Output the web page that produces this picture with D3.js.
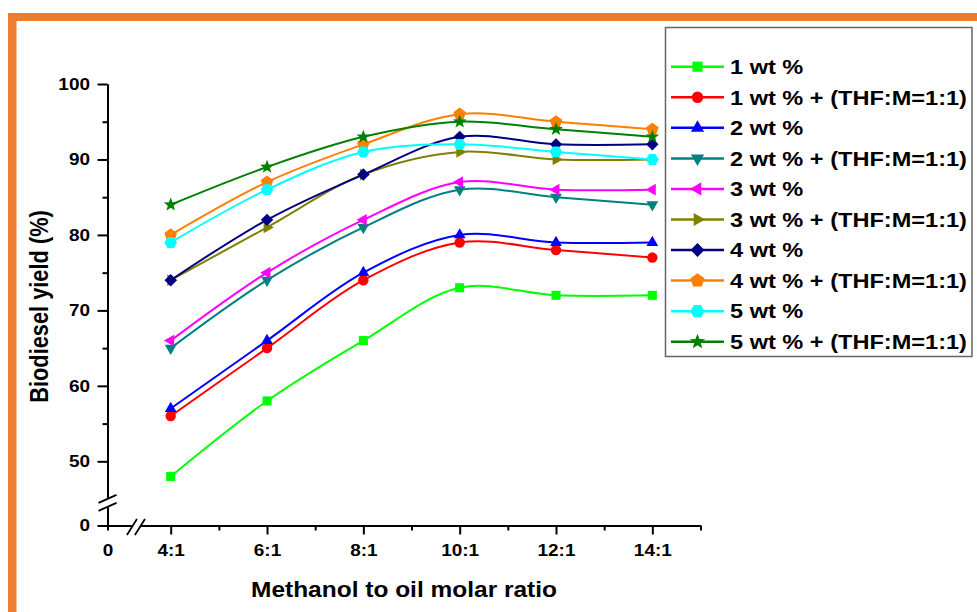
<!DOCTYPE html>
<html>
<head>
<meta charset="utf-8">
<script src="https://cdn.jsdelivr.net/npm/d3@7"></script>
<style>
  body { margin: 0; background: #fff; }
  svg { display: block; }
  text { font-family: "Liberation Sans", Arial, sans-serif; font-weight: bold; fill: #000; }
</style>
</head>
<body>
<div id="vis"></div>
<script>
// molar ratios (x:1)
const ratios = [4, 6, 8, 10, 12, 14];

const seriesNames = [
    "1 wt %", "1 wt % + (THF:M=1:1)",
    "2 wt %", "2 wt % + (THF:M=1:1)",
    "3 wt %", "3 wt % + (THF:M=1:1)",
    "4 wt %", "4 wt % + (THF:M=1:1)",
    "5 wt %", "5 wt % + (THF:M=1:1)"
];

// biodiesel yield (%) at each ratio
const yield1 = [48, 58, 66, 73, 72, 72];
const yield1T = [56, 65, 74, 79, 78, 77];
const yield2 = [57, 66, 75, 80, 79, 79];
const yield2T = [65, 74, 81, 86, 85, 84];
const yield3 = [66, 75, 82, 87, 86, 86];
const yield3T = [74, 81, 88, 91, 90, 90];
const yield4 = [74, 82, 88, 93, 92, 92];
const yield4T = [80, 87, 92, 96, 95, 94];
const yield5 = [79, 86, 91, 92, 91, 90];
const yield5T = [84, 89, 93, 95, 94, 93];

const xTicks = [0, 4, 6, 8, 10, 12, 14];
const xMinor = [5, 7, 9, 11, 13, 15];
const yTicks = [0, 50, 60, 70, 80, 90, 100];
const yMinor = [55, 65, 75, 85, 95];

const colors = ["#00ff00", "#ff0000", "#0000ff", "#008080", "#ff00ff",
                "#808000", "#000080", "#ff8000", "#00ffff", "#008000"];

const allYields = [yield1, yield1T, yield2, yield2T, yield3, yield3T, yield4, yield4T, yield5, yield5T];

const SX = 1.15; // the original picture is stretched sideways

// regular polygon marker, size = circumradius
function polygon(n, start) {
    return {
        draw(ctx, r) {
            for (let i = 0; i < n; i++) {
                const a = start + i * 2 * Math.PI / n;
                const px = r * Math.cos(a), py = r * Math.sin(a);
                if (i === 0) ctx.moveTo(px, py); else ctx.lineTo(px, py);
            }
            ctx.closePath();
        }
    };
}
const circle = { draw(ctx, r) { ctx.moveTo(r, 0); ctx.arc(0, 0, r, 0, 2 * Math.PI); } };
const star = {
    draw(ctx, r) {
        for (let i = 0; i < 10; i++) {
            const rr = i % 2 ? r * 0.42 : r;
            const a = -Math.PI / 2 + i * Math.PI / 5;
            const px = rr * Math.cos(a), py = rr * Math.sin(a);
            if (i === 0) ctx.moveTo(px, py); else ctx.lineTo(px, py);
        }
        ctx.closePath();
    }
};
const deg = Math.PI / 180;
const markers = [
    [polygon(4, 45 * deg), 6.4],
    [circle, 5.2],
    [polygon(3, -90 * deg), 6.8],
    [polygon(3, 90 * deg), 6.8],
    [polygon(3, 180 * deg), 6.8],
    [polygon(3, 0), 6.8],
    [polygon(4, -90 * deg), 6.2],
    [polygon(5, -90 * deg), 6.6],
    [polygon(6, 0), 6.3],
    [star, 7.2]
];

const svg = d3.select("#vis").append("svg")
    .attr("width", 977)
    .attr("height", 612);

// orange frame
svg.append("rect").attr("x", 8).attr("y", 13).attr("width", 969).attr("height", 8).attr("fill", "#ed7d31");
svg.append("rect").attr("x", 8).attr("y", 13).attr("width", 8.5).attr("height", 599).attr("fill", "#ed7d31");

const x = d3.scaleLinear().domain([0, 4, 15]).range([107.5, 170.7, 700.5]);
const y = d3.scaleLinear().domain([0, 44, 100]).range([525.5, 506.6, 84]);

// series
const line = d3.line()
    .x((d, i) => x(ratios[i]))
    .y(d => y(d))
    .curve(d3.curveCatmullRom);

allYields.forEach((vals, s) => {
    const g = svg.append("g");
    g.append("path")
        .attr("d", line(vals))
        .attr("fill", "none")
        .attr("stroke", colors[s])
        .attr("stroke-width", 2);
    g.selectAll("path.m")
        .data(vals)
        .join("path")
        .attr("class", "m")
        .attr("transform", (d, i) => `translate(${x(ratios[i])},${y(d)})`)
        .attr("d", d3.symbol().type(markers[s][0]).size(markers[s][1]))
        .attr("fill", colors[s]);
});

// axes
const xAxis = svg.append("g")
    .attr("transform", `translate(0,${y(0)})`)
    .call(d3.axisBottom(x).tickValues(xTicks).tickSize(9).tickSizeOuter(0).tickPadding(9.5)
        .tickFormat(d => d === 0 ? "0" : d + ":1"));
svg.append("g")
    .attr("transform", `translate(0,${y(0)})`)
    .call(d3.axisBottom(x).tickValues(xMinor).tickSize(5).tickSizeOuter(0).tickFormat(""));

const yAxis = svg.append("g")
    .attr("transform", `translate(${x(0)},0)`)
    .call(d3.axisLeft(y).tickValues(yTicks).tickSize(10).tickSizeOuter(0).tickPadding(7.5));
svg.append("g")
    .attr("transform", `translate(${x(0)},0)`)
    .call(d3.axisLeft(y).tickValues(yMinor).tickSize(5).tickSizeOuter(0).tickFormat(""));

svg.selectAll(".domain, .tick line").attr("stroke", "#000").attr("stroke-width", 2);
xAxis.selectAll(".tick").filter(d => d === 0).select("line").attr("y2", 5);
xAxis.selectAll("text")
    .style("font-size", "16.5px")
    .attr("transform", `scale(${SX},1)`);
yAxis.selectAll("text")
    .style("font-size", "16.5px")
    .attr("x", -17.5 / SX)
    .attr("transform", `scale(${SX},1)`);

// axis breaks
function breakMark(cx, cy, horizontal) {
    const g = svg.append("g").attr("transform", `translate(${cx},${cy})`);
    if (horizontal) {
        g.append("path").attr("d", "M-9,8 L1,-8 L9,-8 L-1,8Z").attr("fill", "#fff");
        [[-9, 8, 1, -8], [-1, 8, 9, -8]].forEach(p =>
            g.append("line").attr("x1", p[0]).attr("y1", p[1]).attr("x2", p[2]).attr("y2", p[3])
                .attr("stroke", "#000").attr("stroke-width", 1.8));
    } else {
        g.append("path").attr("d", "M-9,0 L9,-8 L9,0 L-9,8Z").attr("fill", "#fff");
        [[-9, 0, 9, -8], [-9, 8, 9, 0]].forEach(p =>
            g.append("line").attr("x1", p[0]).attr("y1", p[1]).attr("x2", p[2]).attr("y2", p[3])
                .attr("stroke", "#000").attr("stroke-width", 1.8));
    }
}
breakMark(x(1.8), y(0) + 1.5, true);
breakMark(x(0), y(44.5), false);

// axis titles
svg.append("text")
    .attr("transform", `translate(404,597) scale(${SX},1)`)
    .attr("text-anchor", "middle")
    .style("font-size", "21.3px")
    .text("Methanol to oil molar ratio");

svg.append("text")
    .attr("transform", `translate(48,306.5) scale(${SX},1) rotate(-90)`)
    .attr("text-anchor", "middle")
    .style("font-size", "21.8px")
    .text("Biodiesel yield (%)");

// legend
const legend = svg.append("g");
legend.append("rect")
    .attr("x", 665.5).attr("y", 27.5).attr("width", 306.5).attr("height", 329)
    .attr("fill", "#fff").attr("stroke", "#666").attr("stroke-width", 1.5);

seriesNames.forEach((name, s) => {
    const ry = 66.7 + s * 30.56;
    legend.append("line")
        .attr("x1", 671).attr("x2", 724).attr("y1", ry).attr("y2", ry)
        .attr("stroke", colors[s]).attr("stroke-width", 2.5);
    legend.append("path")
        .attr("transform", `translate(697.5,${ry})`)
        .attr("d", d3.symbol().type(markers[s][0]).size(markers[s][1] * 1.12))
        .attr("fill", colors[s]);
    legend.append("text")
        .attr("transform", `translate(730,${ry + 7.3}) scale(${SX},1)`)
        .style("font-size", "20.5px")
        .text(name);
});
</script>
</body>
</html>
